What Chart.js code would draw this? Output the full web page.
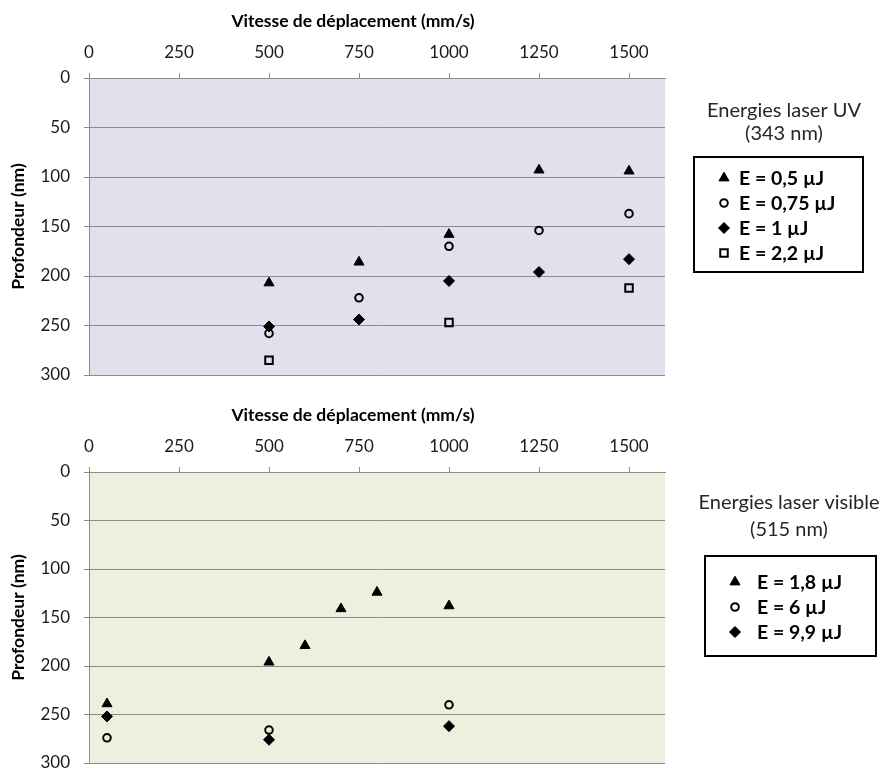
<!DOCTYPE html>
<html><head><meta charset="utf-8">
<script src="https://cdn.jsdelivr.net/npm/chart.js@4/dist/chart.umd.min.js"></script>
<style>
html,body{margin:0;padding:0;background:#fff;overflow:hidden;}
#w1{position:absolute;left:0;top:0;width:879px;height:392px;}
#w2{position:absolute;left:0;top:394px;width:879px;height:377px;}
</style></head><body>
<div id="w1"><canvas id="c1"></canvas></div>
<div id="w2"><canvas id="c2"></canvas></div>
<script>
// ---- data ----
const xTickValues = [0, 250, 500, 750, 1000, 1250, 1500];
const xAxisTitle = 'Vitesse de déplacement (mm/s)';
const yAxisTitle = 'Profondeur (nm)';

// UV laser (343 nm)
const uvTitle = ['Energies laser UV', '(343 nm)'];
const uvLabels = ['E = 0,5 µJ', 'E = 0,75 µJ', 'E = 1 µJ', 'E = 2,2 µJ'];
const uvSpeedsA = [500, 750, 1000, 1250, 1500];
const uvDepth05 = [207, 186, 158, 93, 94];
const uvDepth075 = [258, 222, 170, 154, 137];
const uvDepth1 = [251, 244, 205, 196, 183];
const uvSpeedsB = [500, 1000, 1500];
const uvDepth22 = [285, 247, 212];

// Visible laser (515 nm)
const visTitle = ['Energies laser visible', '(515 nm)'];
const visLabels = ['E = 1,8 µJ', 'E = 6 µJ', 'E = 9,9 µJ'];
const visSpeedsA = [50, 500, 600, 700, 800, 1000];
const visDepth18 = [239, 196, 179, 141, 124, 138];
const visSpeedsB = [50, 500, 1000];
const visDepth6 = [274, 266, 240];
const visDepth99 = [252, 276, 262];

// ---- styles ----
const FONT = 'Lato, "Open Sans", sans-serif';
const GRID = '#8c8c8c';
const TXT = '#1a1a1a';
const markers = {
  triangle: {pointStyle: 'triangle', pointRadius: 5.8, backgroundColor: '#000', borderColor: '#000', borderWidth: 1},
  circle:   {pointStyle: 'circle', pointRadius: 3.8, backgroundColor: 'rgba(0,0,0,0)', borderColor: '#000', borderWidth: 2},
  diamond:  {pointStyle: 'rectRot', pointRadius: 5.5, backgroundColor: '#000', borderColor: '#000', borderWidth: 1},
  square:   {pointStyle: 'rect', pointRadius: 5.3, backgroundColor: 'rgba(0,0,0,0)', borderColor: '#000', borderWidth: 2}
};

function series(label, xs, ys, marker) {
  return Object.assign({
    label: label,
    data: xs.map((x, i) => ({x: x, y: ys[i]})),
    showLine: false,
    pointHoverRadius: 6
  }, markers[marker]);
}

const bgPlugin = {
  id: 'plotBg',
  beforeDraw(chart, args, opts) {
    const a = chart.chartArea, ctx = chart.ctx;
    ctx.save();
    ctx.fillStyle = opts.color;
    ctx.fillRect(a.left, a.top, a.right - a.left, a.bottom - a.top);
    ctx.restore();
  }
};

const boxLegend = {
  id: 'boxLegend',
  afterDraw(chart, args, o) {
    const ctx = chart.ctx;
    ctx.save();
    ctx.fillStyle = '#262626';
    ctx.textAlign = 'center';
    ctx.textBaseline = 'middle';
    ctx.font = '20px ' + FONT;
    o.title.forEach((t, i) => ctx.fillText(t, o.cx, o.titleY + i * o.titleLH));
    ctx.lineWidth = 2;
    ctx.strokeStyle = '#000';
    ctx.strokeRect(o.bx, o.by, o.bw, o.bh);
    ctx.font = 'bold 19.5px ' + FONT;
    ctx.textAlign = 'left';
    chart.data.datasets.forEach((ds, i) => {
      const y = o.itemY + i * o.itemLH;
      ctx.fillStyle = ds.backgroundColor;
      ctx.strokeStyle = ds.borderColor;
      ctx.lineWidth = ds.borderWidth;
      Chart.helpers.drawPoint(ctx, {pointStyle: ds.pointStyle, radius: ds.pointRadius, borderWidth: ds.borderWidth, rotation: 0}, o.mx, y);
      ctx.fillStyle = '#000';
      ctx.fillText(ds.label, o.tx, y + 1);
    });
    ctx.restore();
  }
};

function makeChart(id, datasets, bg, legendOpts, padBottom) {
  return new Chart(document.getElementById(id), {
    type: 'scatter',
    data: {datasets: datasets},
    plugins: [bgPlugin, boxLegend],
    options: {
      responsive: true,
      maintainAspectRatio: false,
      animation: false,
      layout: {padding: {left: 0, top: 0, right: 879 - 665, bottom: padBottom}},
      plugins: {
        legend: {display: false},
        tooltip: {enabled: true},
        plotBg: {color: bg},
        boxLegend: legendOpts
      },
      scales: {
        x: {
          type: 'linear',
          position: 'top',
          min: 0,
          max: 1600,
          afterBuildTicks(s) { s.ticks = xTickValues.map(v => ({value: v})); },
          afterFit(s) {
            s.height = 78; s.paddingLeft = 0; s.paddingRight = 0;
            if (!s._titleShift) {
              const draw = s.drawTitle;
              s.drawTitle = function () { this.left -= 48; try { draw.call(this); } finally { this.left += 48; } };
              s._titleShift = true;
            }
          },
          ticks: {color: TXT, font: {family: FONT, size: 17}, padding: 10, maxRotation: 0, callback: v => String(v)},
          grid: {drawOnChartArea: false, drawTicks: true, tickLength: 5, color: GRID},
          border: {color: GRID, width: 1},
          title: {display: true, text: xAxisTitle, color: '#000', font: {family: FONT, size: 17.5, weight: 'bold'}, padding: {top: 11, bottom: 0}}
        },
        y: {
          type: 'linear',
          reverse: true,
          min: 0,
          max: 300,
          ticks: {stepSize: 50, color: TXT, font: {family: FONT, size: 17}, padding: 14, callback: v => String(v)},
          afterFit(s) { s.width = 89; s.paddingTop = 0; s.paddingBottom = 0; },
          grid: {color: GRID, drawTicks: true, tickLength: 5, lineWidth: 1},
          border: {color: GRID, width: 1},
          title: {display: true, text: yAxisTitle, color: '#000', font: {family: FONT, size: 17.5, weight: 'bold'}, padding: {top: 8, bottom: 0}}
        }
      }
    }
  });
}

makeChart('c1', [
  series(uvLabels[0], uvSpeedsA, uvDepth05, 'triangle'),
  series(uvLabels[1], uvSpeedsA, uvDepth075, 'circle'),
  series(uvLabels[2], uvSpeedsA, uvDepth1, 'diamond'),
  series(uvLabels[3], uvSpeedsB, uvDepth22, 'square')
], '#e4dfec', {
  title: uvTitle, cx: 784, titleY: 111, titleLH: 23,
  bx: 694, by: 157, bw: 169, bh: 115,
  itemY: 178, itemLH: 25, mx: 724, tx: 739
}, 392 - 375);

makeChart('c2', [
  series(visLabels[0], visSpeedsA, visDepth18, 'triangle'),
  series(visLabels[1], visSpeedsB, visDepth6, 'circle'),
  series(visLabels[2], visSpeedsB, visDepth99, 'diamond')
], '#ebf1de', {
  title: visTitle, cx: 789, titleY: 109, titleLH: 27,
  bx: 705, by: 162, bw: 171, bh: 100,
  itemY: 188, itemLH: 25, mx: 735, tx: 757
}, 377 - 371);
</script>
</body></html>
